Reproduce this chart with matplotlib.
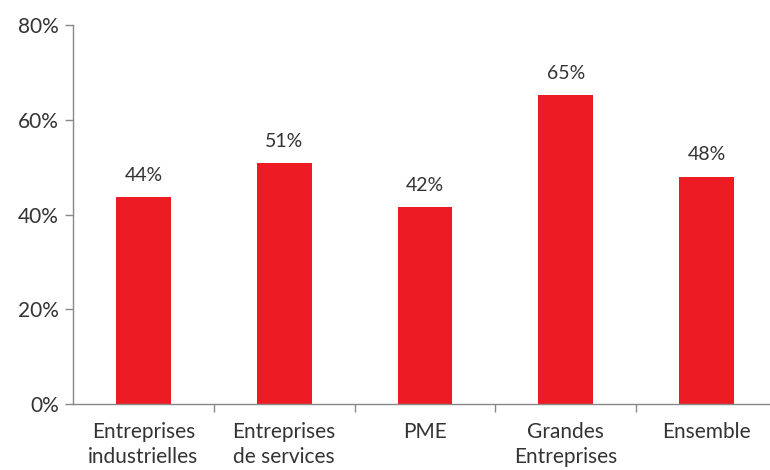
import matplotlib.pyplot as plt
from matplotlib.ticker import FuncFormatter, FixedLocator

categories = ['Entreprises\nindustrielles', 'Entreprises\nde services', 'PME',
              'Grandes\nEntreprises', 'Ensemble']
values = [43.7, 50.9, 41.6, 65.2, 48.0]
yticks = [0, 20, 40, 60, 80]

plt.rcParams['font.family'] = ['Lato', 'DejaVu Sans']

fig = plt.figure(figsize=(7.7, 4.7), dpi=100)
ax = fig.add_axes([0.0948, 0.1404, 0.9052, 0.8064])

x = range(len(categories))
bars = ax.bar(x, values, width=0.39, color='#ED1C24', zorder=2)

for b, v in zip(bars, values):
    ax.text(b.get_x() + b.get_width() / 2, v + 2.8, f'{round(v)}%',
            ha='center', va='bottom', fontsize=14, color='#333333')

ax.set_xlim(-0.5, 4.45)
ax.set_ylim(0, 80)
ax.set_yticks(yticks)
ax.yaxis.set_major_formatter(FuncFormatter(lambda v, p: f'{int(v)}%'))

ax.set_xticks(list(x))
ax.set_xticklabels(categories, fontsize=15, color='#333333', linespacing=1.32)
ax.xaxis.set_minor_locator(FixedLocator([0.5, 1.5, 2.5, 3.5]))
ax.tick_params(axis='x', which='major', length=0, pad=13)
ax.tick_params(axis='x', which='minor', length=6, color='#888888', width=1)
ax.tick_params(axis='y', length=6, color='#888888', width=1, labelsize=15,
               labelcolor='#333333', pad=4)

for s in ['top', 'right']:
    ax.spines[s].set_visible(False)
for s in ['left', 'bottom']:
    ax.spines[s].set_color('#888888')
    ax.spines[s].set_linewidth(1)

fig.savefig('out.png', dpi=100)
